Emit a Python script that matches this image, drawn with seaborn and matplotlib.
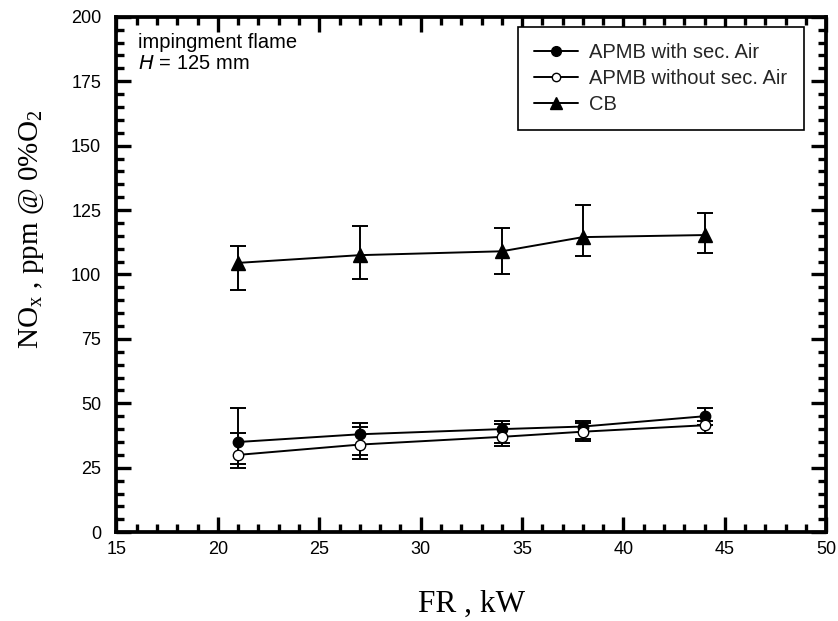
import matplotlib
matplotlib.use("Agg")
import matplotlib.pyplot as plt
import seaborn as sns
import pandas as pd
from matplotlib.ticker import MultipleLocator
from matplotlib.lines import Line2D

fr = [21, 27, 34, 38, 44]
series_names = ["APMB with sec. Air", "APMB without sec. Air", "CB"]
with_sec = [35, 38, 40, 41, 45]
with_sec_lo = [25, 30, 34.5, 36, 41.5]
with_sec_hi = [48, 42.3, 43, 43, 48]
without_sec = [30, 34, 37, 39, 41.5]
without_sec_lo = [26.3, 28.3, 33.3, 35.2, 38.4]
without_sec_hi = [38.4, 40.7, 42, 42.3, 43.3]
cb = [104.5, 107.5, 109, 114.5, 115.3]
cb_lo = [94, 98.3, 100.3, 107.2, 108.3]
cb_hi = [111.2, 119, 118, 127, 124]

sns.set_theme(style="ticks")
plt.rcParams['font.family'] = ['Liberation Sans', 'DejaVu Sans']

fig = plt.figure(figsize=(8.38, 6.21), dpi=100)
ax = fig.add_axes([0.139, 0.143, 0.847, 0.830])

df = pd.DataFrame({
    "FR": fr * 3,
    "NOx": with_sec + without_sec + cb,
    "series": [series_names[0]] * 5 + [series_names[1]] * 5 + [series_names[2]] * 5,
})

styles = {
    series_names[0]: dict(marker="o", mfc="black", ms=7.5),
    series_names[1]: dict(marker="o", mfc="white", ms=7.5),
    series_names[2]: dict(marker="^", mfc="black", ms=9.5),
}
los = {series_names[0]: with_sec_lo, series_names[1]: without_sec_lo, series_names[2]: cb_lo}
his = {series_names[0]: with_sec_hi, series_names[1]: without_sec_hi, series_names[2]: cb_hi}

for name in series_names:
    sub = df[df["series"] == name]
    y = sub["NOx"].tolist()
    lo = los[name]
    hi = his[name]
    yerr = [[yv - l for yv, l in zip(y, lo)], [h - yv for yv, h in zip(y, hi)]]
    ax.errorbar(sub["FR"], y, yerr=yerr, fmt="none", ecolor="black",
                elinewidth=1.4, capsize=5.5, capthick=1.4, zorder=2)
    sns.lineplot(data=sub, x="FR", y="NOx", ax=ax, color="black", linewidth=1.4,
                 marker=styles[name]["marker"], markersize=styles[name]["ms"],
                 markerfacecolor=styles[name]["mfc"], markeredgecolor="black",
                 markeredgewidth=1.0, legend=False, zorder=3, errorbar=None)

ax.set_xlim(15, 50)
ax.set_ylim(0, 200)
ax.xaxis.set_major_locator(MultipleLocator(5))
ax.xaxis.set_minor_locator(MultipleLocator(1))
ax.yaxis.set_major_locator(MultipleLocator(25))
ax.yaxis.set_minor_locator(MultipleLocator(5))
ax.tick_params(which="both", direction="in", top=True, right=True, color="black",
               labelsize=13, labelcolor="black")
ax.tick_params(which="major", length=11, width=2.4)
ax.tick_params(which="minor", length=6, width=2.4)
ax.tick_params(axis="x", which="major", pad=6)
ax.tick_params(axis="y", which="major", pad=11)
for s in ax.spines.values():
    s.set_linewidth(2.7)
    s.set_color("black")

serif = ['Liberation Serif', 'DejaVu Serif']
ax.set_xlabel("FR , kW", fontsize=22.5, family=serif, labelpad=23, color="black")
ax.set_ylabel(r"NO$_\mathregular{x}$ , ppm @ 0%O$_\mathregular{2}$", fontsize=21,
              family=serif, color="black")
ax.yaxis.set_label_coords(-0.100, 0.588)

ax.text(0.03, 0.940, "impingment flame", transform=ax.transAxes, fontsize=14.5,
        va="baseline", ha="left", color="black")
ax.text(0.03, 0.899, r"$\mathit{H}$ = 125 mm", transform=ax.transAxes, fontsize=14.5,
        va="baseline", ha="left", color="black")

handles = [Line2D([0], [0], color="black", lw=1.4, marker=styles[n]["marker"],
                  ms=(7 if n == series_names[0] else (6 if n == series_names[1] else 9)),
                  mfc=styles[n]["mfc"], mec="black")
           for n in series_names]
leg = ax.legend(handles, series_names, loc="upper right", bbox_to_anchor=(0.968, 0.981),
                fontsize=14.5, frameon=True, fancybox=False, edgecolor="black",
                framealpha=1, handlelength=2.2, handletextpad=0.55, borderpad=0.8,
                labelspacing=0.36, borderaxespad=0)
leg.get_frame().set_linewidth(1.2)

fig.savefig("out.png", dpi=100)
